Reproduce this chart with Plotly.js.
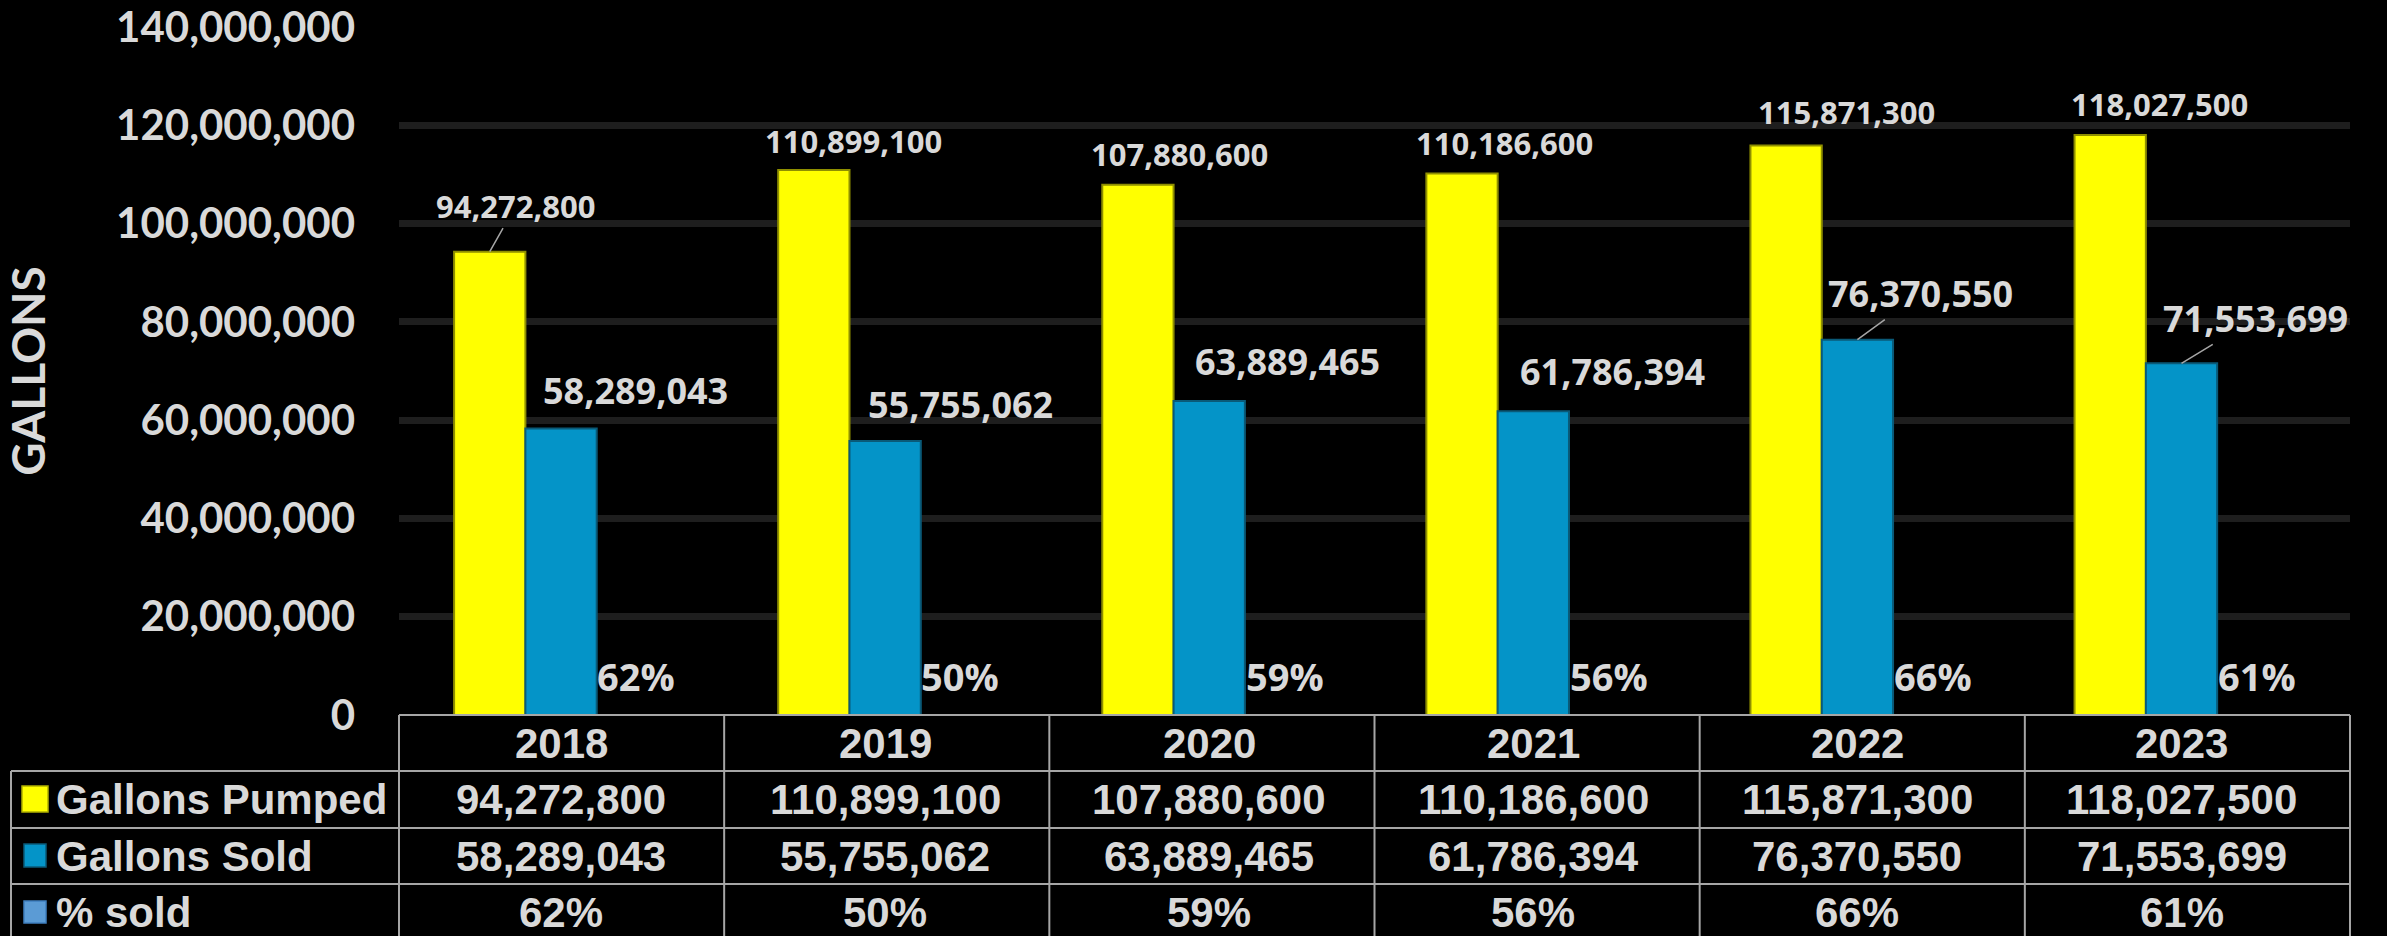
<!DOCTYPE html>
<html>
<head>
<meta charset="utf-8">
<script src="https://cdn.plot.ly/plotly-3.0.1.min.js"></script>
<style>html,body{margin:0;padding:0;background:#000;}#chart{width:2387px;height:936px;}</style>
</head>
<body>
<div id="chart"></div>
<script>
// ---- data ----
const years = ['2018', '2019', '2020', '2021', '2022', '2023'];
const gallonsPumped = [94272800, 110899100, 107880600, 110186600, 115871300, 118027500];
const gallonsSold = [58289043, 55755062, 63889465, 61786394, 76370550, 71553699];
const pctSold = [0.62, 0.50, 0.59, 0.56, 0.66, 0.61];
const seriesNames = ['Gallons Pumped', 'Gallons Sold', '% sold'];
const yTickVals = [0, 20000000, 40000000, 60000000, 80000000, 100000000, 120000000, 140000000];

// ---- layout constants ----
const W = 2387, H = 936;
const M = {l: 399, r: 37, t: 27, b: 221};
const PW = W - M.l - M.r, PH = H - M.t - M.b;
const px2x = X => (X - M.l) / PW;
const px2y = Y => (H - M.b - Y) / PH;
const BARGAP = 0.34;
const BW = (1 - BARGAP) / 3;
const TXT = '#d9d9d9';
const GRID = '#a6a6a6';
const COLORS = ['#ffff00', '#0494c8', '#5b9bd5'];
const LABEL_FONT = '"Open Sans", Lato, sans-serif';
const TICK_FONT = 'Lato, "Open Sans", sans-serif';
const TABLE_FONT = '"Liberation Sans", Arial, sans-serif';

// label nudges (pixels): [dx, dy] of label centre from bar top centre
const pumpedNudge = [[26, -46], [40, -29], [42, -31], [42, -31], [60, -34], [49, -31]];
const soldNudge = [[74, -38], [75, -37], [78, -40], [79, -40], [63, -46], [74, -45]];
const pumpedArrow = [true, false, false, false, false, false];
const soldArrow = [false, false, false, false, true, true];

const fmt = v => v.toLocaleString('en-US');
const pct = v => Math.round(v * 100) + '%';
const bold = s => '<b>' + s + '</b>';

const traces = [
  {type: 'bar', name: seriesNames[0], x: years, y: gallonsPumped,
   marker: {color: COLORS[0], line: {color: '#8f8f00', width: 2}}, hoverinfo: 'skip'},
  {type: 'bar', name: seriesNames[1], x: years, y: gallonsSold,
   marker: {color: COLORS[1], line: {color: '#0a5a78', width: 2}}, hoverinfo: 'skip'},
  {type: 'bar', name: seriesNames[2], x: years, y: pctSold,
   marker: {color: COLORS[2]}, hoverinfo: 'skip'}
];

const annotations = [];
function dataLabel(i, offset, value, nudge, arrow, size) {
  const base = {
    xref: 'x', yref: 'y', x: i + offset, y: value, text: bold(fmt(value)),
    font: {family: LABEL_FONT, size: size, color: TXT, weight: 700},
    xanchor: 'center', yanchor: 'middle'
  };
  if (arrow) {
    Object.assign(base, {showarrow: true, arrowhead: 0, arrowwidth: 1.5, arrowcolor: '#a6a6a6',
      ax: nudge[0], ay: nudge[1], standoff: 0, startstandoff: 0});
  } else {
    Object.assign(base, {showarrow: false, xshift: nudge[0], yshift: -nudge[1]});
  }
  annotations.push(base);
}
years.forEach((yr, i) => {
  dataLabel(i, -BW, gallonsPumped[i], pumpedNudge[i], pumpedArrow[i], 31);
  dataLabel(i, 0, gallonsSold[i], soldNudge[i], soldArrow[i], 36);
  annotations.push({xref: 'x', yref: 'y', x: i + BW, y: 0, text: bold(pct(pctSold[i])), showarrow: false,
    xshift: 4, yshift: 39, xanchor: 'center', yanchor: 'middle',
    font: {family: LABEL_FONT, size: 38, color: TXT, weight: 700}});
});

// ---- data table under the plot ----
const rowTop = [715, 771, 828, 884];
const rowBottom = 940;
const rowCentre = [743, 800, 856, 912];
const tableLeft = 11;
const shapes = [];
const line = (x0, y0, x1, y1) => shapes.push({type: 'line', xref: 'paper', yref: 'paper',
  x0: px2x(x0), y0: px2y(y0), x1: px2x(x1), y1: px2y(y1), line: {color: GRID, width: 2}});
line(M.l, rowTop[0], W - M.r, rowTop[0]);
for (let r = 1; r < rowTop.length; r++) line(tableLeft, rowTop[r], W - M.r, rowTop[r]);
line(tableLeft, rowTop[1], tableLeft, rowBottom);
for (let c = 0; c <= years.length; c++) {
  const X = M.l + c * PW / years.length;
  line(X, rowTop[0], X, rowBottom);
}
const tcell = (x, xref, yPix, text, anchor) => annotations.push({xref: xref, yref: 'paper', x: x,
  y: px2y(yPix), text: bold(text), showarrow: false, xanchor: anchor, yanchor: 'middle',
  font: {family: TABLE_FONT, size: 42, color: TXT}});
years.forEach((yr, i) => {
  tcell(i, 'x', rowCentre[0], yr, 'center');
  tcell(i, 'x', rowCentre[1], fmt(gallonsPumped[i]), 'center');
  tcell(i, 'x', rowCentre[2], fmt(gallonsSold[i]), 'center');
  tcell(i, 'x', rowCentre[3], pct(pctSold[i]), 'center');
});
seriesNames.forEach((nm, r) => {
  tcell(px2x(54), 'paper', rowCentre[r + 1], nm, 'left');
});
// legend keys
const keys = [[22, 786, 48, 812, '#b0b000'], [24, 844, 46, 867, '#0a5a78'], [24, 901, 46, 923, '#3f7fbf']];
keys.forEach((k, r) => shapes.push({type: 'rect', xref: 'paper', yref: 'paper',
  x0: px2x(k[0]), x1: px2x(k[2]), y0: px2y(k[3]), y1: px2y(k[1]),
  fillcolor: COLORS[r], line: {color: k[4], width: 1.5}}));

const layout = {
  width: W, height: H,
  paper_bgcolor: '#000', plot_bgcolor: '#000',
  margin: M,
  showlegend: false,
  barmode: 'group', bargap: BARGAP, bargroupgap: 0,
  xaxis: {type: 'category', showticklabels: false, ticks: '', showgrid: false, zeroline: false,
    showline: false, fixedrange: true},
  yaxis: {range: [0, 140000000], tickvals: yTickVals, tickformat: ',d', showgrid: true,
    gridcolor: '#1e1e1e', gridwidth: 7, zeroline: false, showline: false, ticks: '',
    ticklabelstandoff: 43,
    tickfont: {family: TICK_FONT, size: 42, color: TXT, weight: 700},
    title: {text: 'GALLONS', standoff: 58, font: {family: TICK_FONT, size: 46, color: TXT, weight: 700}}},
  annotations: annotations,
  shapes: shapes
};

Plotly.newPlot('chart', traces, layout, {staticPlot: true, displayModeBar: false});
</script>
</body>
</html>
